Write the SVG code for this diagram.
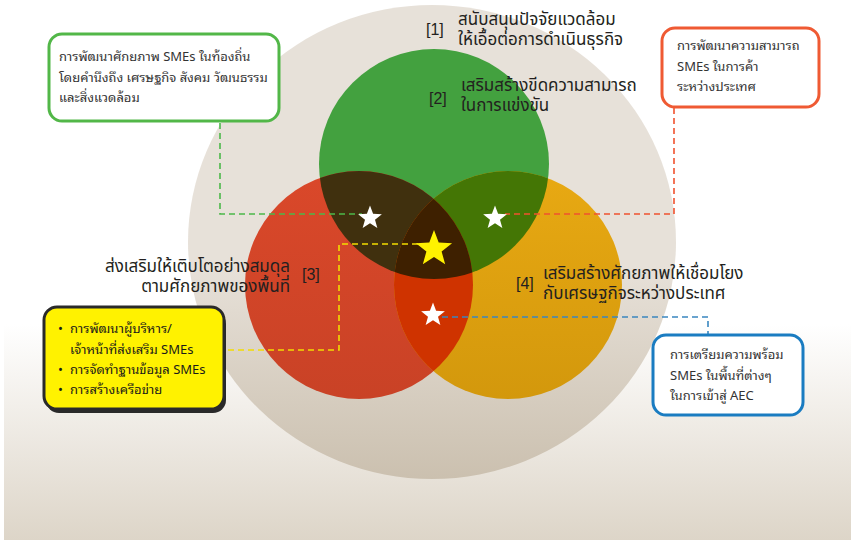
<svg xmlns="http://www.w3.org/2000/svg" width="851" height="540" viewBox="0 0 851 540">
<style>
.head{font-family:"Noto Sans Thai","Noto Sans","Liberation Sans",sans-serif;font-size:17px;fill:#231f20}
.num{font-family:"Liberation Sans",sans-serif;font-size:16px;fill:#231f20}
.box{font-family:"Noto Sans Thai Looped","Noto Sans Thai","Liberation Sans",sans-serif;font-size:13px;fill:#333333}
.ybox{font-family:"Noto Sans Thai Looped","Noto Sans Thai","Liberation Sans",sans-serif;font-size:13px;fill:#1a1a1a}
.dash{fill:none;stroke-width:1.6;stroke-dasharray:6 4}
.star{fill:#ffffff}
</style>
<defs>
<linearGradient id="bg" x1="0" y1="0" x2="0" y2="1">
<stop offset="0.6" stop-color="#ffffff"/>
<stop offset="1" stop-color="#ddd5c8"/>
</linearGradient>
<linearGradient id="big" x1="0" y1="0" x2="0" y2="1">
<stop offset="0.55" stop-color="#e7e1d9"/>
<stop offset="1" stop-color="#cbc0af"/>
</linearGradient>
<linearGradient id="redg" x1="0" y1="0" x2="0" y2="1">
<stop offset="0" stop-color="#da482a"/>
<stop offset="1" stop-color="#c94226"/>
</linearGradient>
<linearGradient id="orag" x1="0" y1="0" x2="0" y2="1">
<stop offset="0" stop-color="#e8a913"/>
<stop offset="1" stop-color="#d3980c"/>
</linearGradient>
<clipPath id="cGreen"><circle cx="434" cy="164" r="115"/></clipPath>
<clipPath id="cRed"><circle cx="359" cy="285" r="114"/></clipPath>
<path id="star" d="M0,-1 L0.247,-0.34 L0.951,-0.309 L0.4,0.13 L0.588,0.809 L0,0.42 L-0.588,0.809 L-0.4,0.13 L-0.951,-0.309 L-0.247,-0.34 Z"/>
</defs>

<rect x="4" y="0" width="847" height="540" fill="url(#bg)"/>
<ellipse id="outer" cx="432" cy="242" rx="244" ry="237" fill="url(#big)"/>

<g id="venn">
<circle id="green" cx="434" cy="164" r="115" fill="#43a13f"/>
<circle id="red" cx="359" cy="285" r="114" fill="url(#redg)"/>
<circle id="orange" cx="508" cy="285" r="114" fill="url(#orag)"/>
<circle cx="359" cy="285" r="114" fill="#40300e" clip-path="url(#cGreen)"/>
<circle cx="508" cy="285" r="114" fill="#447605" clip-path="url(#cGreen)"/>
<circle cx="508" cy="285" r="114" fill="#cf3300" clip-path="url(#cRed)"/>
<g clip-path="url(#cRed)"><circle cx="508" cy="285" r="114" fill="#3e2000" clip-path="url(#cGreen)"/></g>
</g>

<g id="connectors">
<polyline class="dash" stroke="#4cb849" points="220,123 220,214 362,214"/>
<polyline class="dash" stroke="#f0522f" points="674,108 674,214 505,214"/>
<polyline class="dash" stroke="#f2dc00" points="228,350 339,350 339,244 424,244"/>
<polyline class="dash" stroke="#3a87c0" points="442,317 708,317 708,334"/>
</g>

<g id="stars">
<use href="#star" class="star" transform="translate(370,218) scale(12.5)"/>
<use href="#star" class="star" transform="translate(495,218) scale(12.5)"/>
<use href="#star" class="star" transform="translate(433,315) scale(12.5)"/>
<use href="#star" fill="#fff200" transform="translate(434,249) scale(19)"/>
</g>

<g id="label1">
<text class="num" x="426" y="35">[1]</text>
<text class="head"><tspan x="458" y="25">สนับสนุนปัจจัยแวดล้อม</tspan><tspan x="458" y="45">ให้เอื้อต่อการดำเนินธุรกิจ</tspan></text>
</g>
<g id="label2">
<text class="num" x="429" y="104">[2]</text>
<text class="head"><tspan x="461" y="91">เสริมสร้างขีดความสามารถ</tspan><tspan x="461" y="111">ในการแข่งขัน</tspan></text>
</g>
<g id="label3">
<text class="head" text-anchor="end"><tspan x="290" y="272">ส่งเสริมให้เติบโตอย่างสมดุล</tspan><tspan x="290" y="292">ตามศักยภาพของพื้นที่</tspan></text>
<text class="num" x="302" y="280">[3]</text>
</g>
<g id="label4">
<text class="num" x="516" y="289">[4]</text>
<text class="head"><tspan x="543" y="279">เสริมสร้างศักยภาพให้เชื่อมโยง</tspan><tspan x="543" y="299">กับเศรษฐกิจระหว่างประเทศ</tspan></text>
</g>

<g id="box-green">
<rect x="49" y="34" width="230" height="87" rx="13" fill="#ffffff" stroke="#52b748" stroke-width="3"/>
<text class="box"><tspan x="59" y="61">การพัฒนาศักยภาพ SMEs ในท้องถิ่น</tspan><tspan x="59" y="82">โดยคำนึงถึง เศรษฐกิจ สังคม วัฒนธรรม</tspan><tspan x="59" y="102">และสิ่งแวดล้อม</tspan></text>
</g>
<g id="box-red">
<rect x="662" y="28" width="157" height="79" rx="13" fill="#ffffff" stroke="#ef5a33" stroke-width="3"/>
<text class="box"><tspan x="677" y="50">การพัฒนาความสามารถ</tspan><tspan x="677" y="71">SMEs ในการค้า</tspan><tspan x="677" y="91">ระหว่างประเทศ</tspan></text>
</g>
<g id="box-blue">
<rect x="653" y="335" width="150" height="80" rx="13" fill="#ffffff" stroke="#1a7cc1" stroke-width="3"/>
<text class="box"><tspan x="670" y="359">การเตรียมความพร้อม</tspan><tspan x="670" y="380">SMEs ในพื้นที่ต่างๆ</tspan><tspan x="670" y="400">ในการเข้าสู่ AEC</tspan></text>
</g>
<g id="box-yellow">
<rect x="46" y="311" width="180" height="102" rx="13" fill="#2a2a2a"/>
<rect x="44" y="307" width="180" height="102" rx="13" fill="#fff200" stroke="#2a2a2a" stroke-width="3"/>
<text class="ybox"><tspan x="58" y="333">•</tspan><tspan x="58" y="374">•</tspan><tspan x="58" y="394">•</tspan></text>
<text class="ybox"><tspan x="70" y="333">การพัฒนาผู้บริหาร/</tspan><tspan x="70" y="354">เจ้าหน้าที่ส่งเสริม SMEs</tspan><tspan x="70" y="374">การจัดทำฐานข้อมูล SMEs</tspan><tspan x="70" y="394">การสร้างเครือข่าย</tspan></text>
</g>
</svg>
